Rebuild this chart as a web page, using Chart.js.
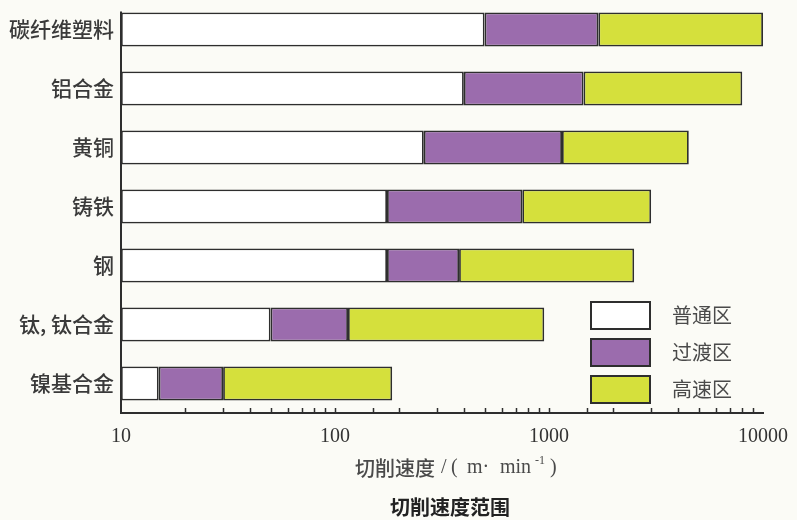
<!DOCTYPE html>
<html>
<head>
<meta charset="utf-8">
<script src="https://cdn.jsdelivr.net/npm/chart.js@4/dist/chart.umd.min.js"></script>
<style>
  html, body { margin: 0; padding: 0; background: #fbfbf6; }
  #wrap { width: 797px; height: 520px; }
</style>
</head>
<body>
<div id="wrap"><canvas id="c" width="797" height="520"></canvas></div>
<script>
// Materials, top to bottom
const materials = ['碳纤维塑料', '铝合金', '黄铜', '铸铁', '钢', '钛, 钛合金', '镍基合金'];
// Cutting speed zone limits, m/min
const normalEnd = [500, 400, 260, 175, 175, 50, 15];
const transitionEnd = [1700, 1450, 1150, 750, 380, 115, 30];
const highEnd = [10000, 8000, 4500, 3000, 2500, 950, 185];
// Axis
const axisMin = 10;
const axisMax = 10000;
const labelledTicks = [10, 100, 1000, 10000];
// Texts
const zoneNames = ['普通区', '过渡区', '高速区'];
const axisTitleParts = ['切削速度', '/', '(', 'm·', 'min', '-1', ')'];
const caption = '切削速度范围';

const zoneColors = ['#ffffff', '#9b6cad', '#d5e03c'];
const edgeColor = '#2e2e2e';

const starts = [materials.map(() => axisMin), normalEnd, transitionEnd];
const ends = [normalEnd, transitionEnd, highEnd];

const datasets = zoneNames.map((name, k) => ({
  label: name,
  data: materials.map((_, i) => [starts[k][i], ends[k][i]]),
  backgroundColor: zoneColors[k],
  borderColor: edgeColor,
  borderWidth: 1.8,
  borderSkipped: false,
  grouped: false,
  categoryPercentage: 1,
  barPercentage: 0.58
}));

const cjk = "'Noto Sans CJK SC', 'Noto Sans', sans-serif";
const serif = "'Liberation Serif', serif";

// Axis title run layout: offset from start, font, vertical shift
const titleRuns = [
  { dx: 0,   font: '500 20px ' + cjk, dy: 0 },
  { dx: 86,  font: '20px ' + serif,   dy: 0 },
  { dx: 96,  font: '20px ' + serif,   dy: 0 },
  { dx: 112, font: '20px ' + serif,   dy: 0 },
  { dx: 145, font: '20px ' + serif,   dy: 0 },
  { dx: 180, font: '12px ' + serif,   dy: -7 },
  { dx: 195, font: '20px ' + serif,   dy: 0 }
];

// Extra drawing: left axis line, minor ticks, legend and bottom texts
const decor = {
  id: 'decor',
  afterDraw(chart) {
    const { ctx, chartArea: a, scales } = chart;
    const xs = scales.x;
    const midX = (a.left + a.right) / 2;
    ctx.save();

    // left axis line, from the top of the first bar down to the x axis
    const first = chart.getDatasetMeta(0).data[0];
    const topY = first.y - first.height / 2;
    ctx.strokeStyle = edgeColor;
    ctx.lineWidth = 2;
    ctx.beginPath();
    ctx.moveTo(a.left, topY - 1);
    ctx.lineTo(a.left, a.bottom + 1);
    ctx.stroke();

    // small upward tick marks on the log axis
    ctx.lineWidth = 1.5;
    xs.ticks.forEach(t => {
      if (t.value <= axisMin || t.value >= axisMax) return;
      const px = Math.round(xs.getPixelForValue(t.value)) + 0.5;
      ctx.beginPath();
      ctx.moveTo(px, a.bottom);
      ctx.lineTo(px, a.bottom - 5);
      ctx.stroke();
    });

    // legend
    chart.data.datasets.forEach((ds, i) => {
      const bx = 591, by = 302 + i * 37, bw = 59, bh = 27;
      ctx.fillStyle = ds.backgroundColor;
      ctx.fillRect(bx, by, bw, bh);
      ctx.strokeStyle = edgeColor;
      ctx.lineWidth = 2;
      ctx.strokeRect(bx, by, bw, bh);
      ctx.fillStyle = '#4a4a4a';
      ctx.font = '20px ' + cjk;
      ctx.textAlign = 'left';
      ctx.textBaseline = 'middle';
      ctx.fillText(ds.label, 672, by + bh / 2);
    });

    // axis title, drawn run by run
    ctx.fillStyle = '#4a4a4a';
    ctx.textAlign = 'left';
    ctx.textBaseline = 'middle';
    const x0 = midX - 87, y0 = a.bottom + 55;
    axisTitleParts.forEach((txt, i) => {
      const r = titleRuns[i];
      ctx.font = r.font;
      ctx.fillText(txt, x0 + r.dx, y0 + r.dy);
    });

    // caption
    ctx.fillStyle = '#222222';
    ctx.textAlign = 'center';
    ctx.font = 'bold 20px ' + cjk;
    ctx.fillText(caption, midX + 8, a.bottom + 94);

    ctx.restore();
  }
};

new Chart(document.getElementById('c'), {
  type: 'bar',
  data: { labels: materials, datasets },
  options: {
    responsive: false,
    devicePixelRatio: 1,
    animation: false,
    indexAxis: 'y',
    layout: { padding: { top: 0, right: 34, bottom: 23, left: 0 } },
    plugins: {
      legend: { display: false },
      tooltip: { enabled: false }
    },
    scales: {
      y: {
        type: 'category',
        offset: true,
        grid: { display: false, drawTicks: false },
        border: { display: false },
        ticks: {
          color: '#3a3a3a',
          padding: 7,
          font: { family: cjk, size: 21, weight: '500' }
        },
        afterFit: s => { s.width = 121; s.paddingTop = 0; s.paddingBottom = 0; }
      },
      x: {
        type: 'logarithmic',
        min: axisMin,
        max: axisMax,
        grid: { display: false },
        border: { display: true, color: edgeColor, width: 2 },
        ticks: {
          autoSkip: false,
          maxRotation: 0,
          padding: 4,
          color: '#333333',
          font: { family: serif, size: 20 },
          callback: v => labelledTicks.some(t => Math.abs(t - v) < 1e-6) ? String(v) : ''
        },
        afterFit: s => { s.height = 84; }
      }
    }
  },
  plugins: [decor]
});
</script>
</body>
</html>
